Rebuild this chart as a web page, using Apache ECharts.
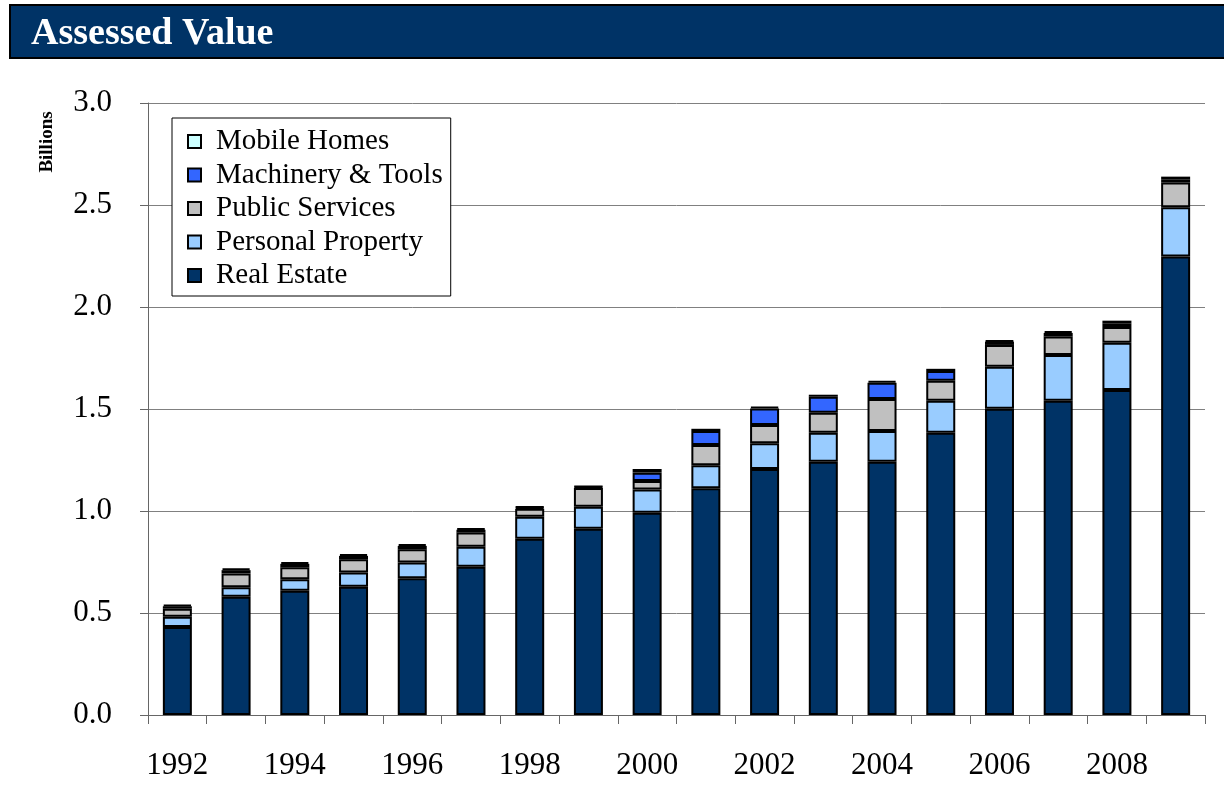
<!DOCTYPE html>
<html>
<head>
<meta charset="utf-8">
<script src="https://cdn.jsdelivr.net/npm/echarts@6/dist/echarts.min.js"></script>
<style>
  html, body { margin: 0; padding: 0; background: #fff; }
  #chart { width: 1224px; height: 786px; }
</style>
</head>
<body>
<div id="chart"></div>
<script>
// years along the x axis
var years = ["1992", "1993", "1994", "1995", "1996", "1997", "1998", "1999", "2000",
  "2001", "2002", "2003", "2004", "2005", "2006", "2007", "2008", "2009"];

// billions
var realEstate = [0.431, 0.580, 0.609, 0.629, 0.670, 0.727, 0.864, 0.913, 0.992,
  1.111, 1.206, 1.242, 1.242, 1.384, 1.501, 1.541, 1.593, 2.247];
var personalProperty = [0.051, 0.046, 0.056, 0.069, 0.078, 0.098, 0.108, 0.108, 0.114,
  0.113, 0.126, 0.142, 0.150, 0.157, 0.206, 0.224, 0.232, 0.242];
var publicServices = [0.039, 0.068, 0.059, 0.065, 0.064, 0.069, 0.039, 0.092, 0.041,
  0.100, 0.090, 0.098, 0.157, 0.097, 0.107, 0.090, 0.077, 0.121];
var machineryTools = [0.012, 0.016, 0.017, 0.017, 0.017, 0.014, 0.006, 0.005, 0.041,
  0.068, 0.081, 0.078, 0.080, 0.048, 0.016, 0.018, 0.016, 0.016];
var mobileHomes = [0.008, 0.009, 0.009, 0.009, 0.009, 0.007, 0.004, 0.003, 0.018,
  0.011, 0.008, 0.010, 0.009, 0.011, 0.006, 0.009, 0.015, 0.013];

var yTicks = [0, 0.5, 1.0, 1.5, 2.0, 2.5, 3.0];

var FONT = "Liberation Serif";

function stackSeries(name, data, color) {
  return {
    name: name,
    type: "bar",
    stack: "total",
    barWidth: 29,
    data: data,
    itemStyle: { color: color, borderColor: "#000", borderWidth: 2 },
    emphasis: { disabled: true }
  };
}

var chart = echarts.init(document.getElementById("chart"));

chart.setOption({
  animation: false,
  backgroundColor: "#fff",
  graphic: [
    {
      type: "rect",
      shape: { x: 10, y: 5, width: 1220, height: 53 },
      style: { fill: "#003366", stroke: "#000", lineWidth: 2 }
    },
    {
      type: "text",
      x: 31, y: 34,
      style: {
        text: "Assessed Value",
        fill: "#fff",
        font: "bold 38px " + FONT,
        verticalAlign: "middle"
      }
    },
    {
      type: "text",
      x: 47, y: 142,
      rotation: Math.PI / 2,
      style: {
        text: "Billions",
        fill: "#000",
        font: "bold 19px " + FONT,
        align: "center",
        verticalAlign: "middle"
      }
    }
  ],
  legend: {
    orient: "vertical",
    left: 172,
    top: 118,
    padding: [9, 8, 6, 15],
    itemGap: 4.5,
    itemWidth: 13,
    itemHeight: 13,
    icon: "rect",
    backgroundColor: "#fff",
    borderColor: "#000",
    borderWidth: 1,
    borderRadius: 0,
    data: ["Mobile Homes", "Machinery & Tools", "Public Services", "Personal Property", "Real Estate"],
    textStyle: {
      fontFamily: FONT,
      fontSize: 29,
      lineHeight: 29,
      color: "#000",
      padding: [0, 0, 0, 10]
    }
  },
  grid: { left: 148, right: 19, top: 103, bottom: 71, containLabel: false },
  xAxis: {
    type: "category",
    data: years,
    boundaryGap: true,
    axisLine: { lineStyle: { color: "#666", width: 1 } },
    axisTick: { show: true, length: 9, interval: 0, lineStyle: { color: "#666" } },
    axisLabel: {
      interval: 1,
      margin: 35,
      fontFamily: FONT,
      fontSize: 31,
      lineHeight: 31,
      color: "#000"
    },
    splitLine: { show: false }
  },
  yAxis: {
    type: "value",
    min: yTicks[0],
    max: yTicks[yTicks.length - 1],
    interval: 0.5,
    axisLine: { show: true, lineStyle: { color: "#666", width: 1 } },
    axisTick: { show: true, length: 8, lineStyle: { color: "#666" } },
    axisLabel: {
      margin: 36,
      fontFamily: FONT,
      fontSize: 31,
      color: "#000",
      formatter: function (v) { return v.toFixed(1); }
    },
    splitLine: { show: true, lineStyle: { color: "#808080", width: 1 } }
  },
  series: [
    stackSeries("Real Estate", realEstate, "#003366"),
    stackSeries("Personal Property", personalProperty, "#99CCFF"),
    stackSeries("Public Services", publicServices, "#C0C0C0"),
    stackSeries("Machinery & Tools", machineryTools, "#3366FF"),
    stackSeries("Mobile Homes", mobileHomes, "#CCFFFF")
  ]
});
</script>
</body>
</html>
